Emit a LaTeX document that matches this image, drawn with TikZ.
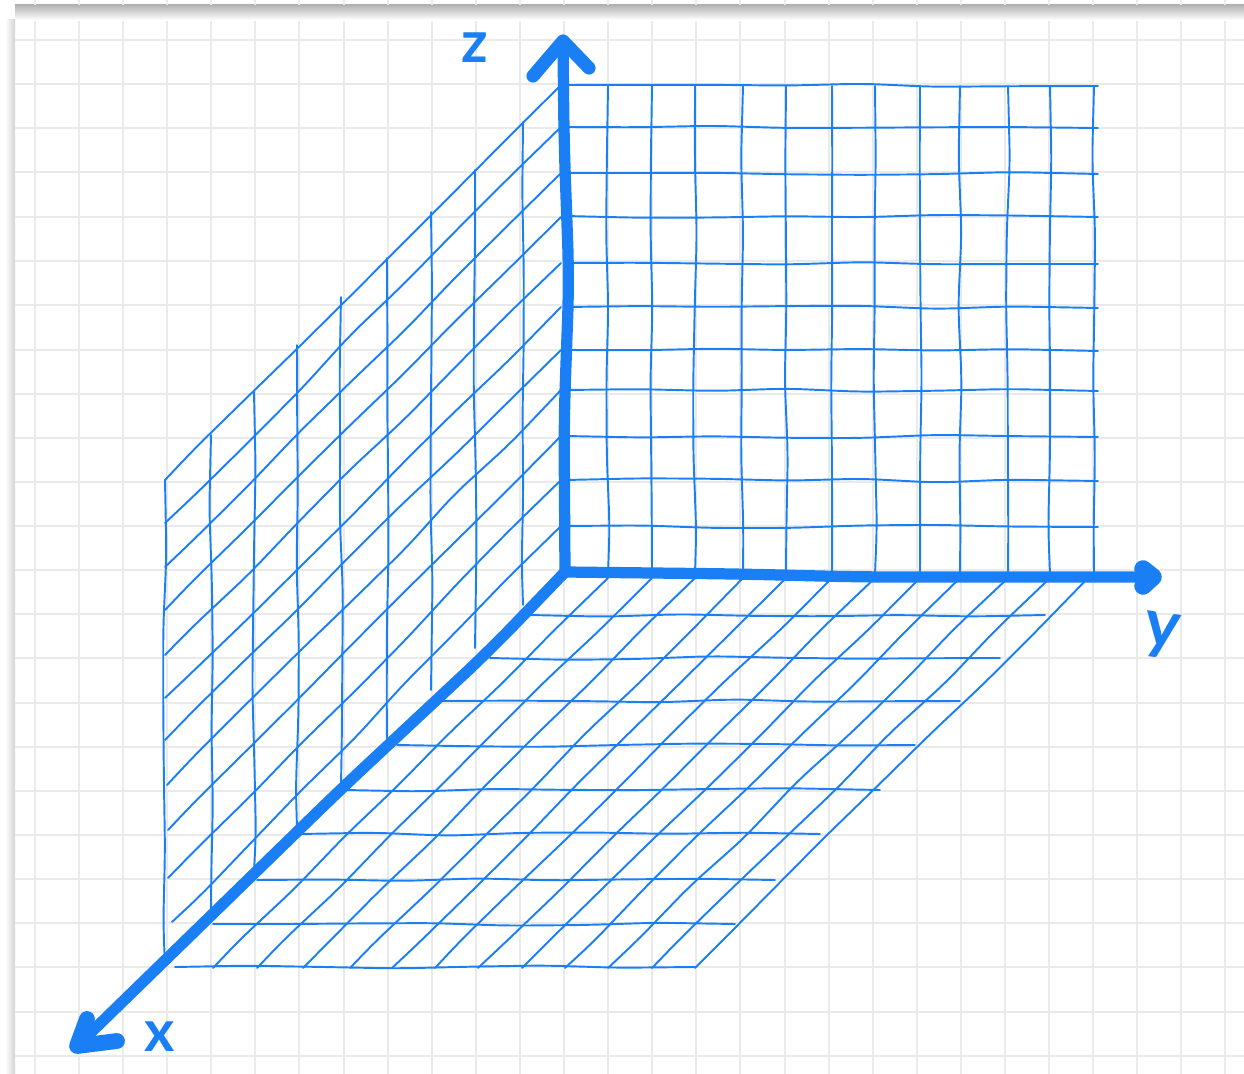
\documentclass[tikz,border=0pt]{standalone}
\usepackage{xcolor}
\usepackage{fontspec}
\usepackage{tikz}
\usetikzlibrary{decorations.pathmorphing}
\setsansfont{Lato}
\definecolor{ink}{HTML}{1A7FF5}
\definecolor{paperline}{HTML}{EAEAEA}
\tikzset{
  paper line/.style={draw=paperline, line width=1.1pt},
  hand line/.style={
    draw=ink, line width=1.1pt, line cap=round, rounded corners=10pt,
    decorate, decoration={random steps, segment length=42pt, amplitude=1.1pt}
  },
  axis line/.style={
    draw=ink, line width=6.4pt, line cap=round, line join=round, rounded corners=20pt
  },
  axis head/.style={
    draw=ink, line width=7.5pt, line cap=round, line join=round
  },
  axis label/.style={font=\sffamily\bfseries\fontsize{33}{33}\selectfont, text=ink, inner sep=0pt}
}
\pgfmathsetseed{17}
\begin{document}
\begin{tikzpicture}[x=0.02cm, y=-0.02cm]
  \useasboundingbox (0, 0) rectangle (1244, 1074);

  % Paper edges
  \shade[top color=gray!60, bottom color=white] (15, 5) rectangle (1244, 20);
  \shade[left color=white, right color=gray!35] (5, 20) rectangle (15, 1074);

  % Paper grid
  \foreach \gridx in {35,79,123,167,211,255,299,344,388,432,476,520,564,608,652,696,740,785,829,873,917,961,1005,1049,1093,1137,1181,1225} {
    \draw[paper line] (\gridx, 21) -- (\gridx, 1074);
    \draw[paper line] (\gridx, 0) -- (\gridx, 5);
  }
  \foreach \gridy in {40,84,128,172,217,261,305,350,394,438,482,526,570,614,658,703,747,791,835,879,923,967,1012,1056} {
    \draw[paper line] (15, \gridy) -- (1244, \gridy);
  }

  \coordinate (origin) at (565, 572);
  \coordinate (ztip) at (563, 41);
  \coordinate (ytip) at (1153, 577);
  \coordinate (xtip) at (77, 1046);

  % Back wall
  \foreach \wallx in {608,652,695,743,786,832,875,920,960,1008,1050,1094} {
    \draw[hand line] (\wallx, 86) -- (\wallx, 574);
  }
  \foreach \wally in {85,127,173,216,263,307,350,390,436,480,526} {
    \draw[hand line] (566, \wally) -- (1098, \wally + 1);
  }

  % Left wall, verticals run from top edge to the x axis
  \foreach \sidex/\sidetop/\sidebot in {165/480/965, 211/435/915, 254/392/872, 297/345/828, 341/297/785, 387/258/740, 431/212/690, 475/170/648, 523/122/605} {
    \draw[hand line] (\sidex, \sidetop) -- (\sidex, \sidebot);
  }
  \foreach \slantz/\slantb/\slantl in {85/480/165, 127/523/165, 173/567/165, 217/610/165, 263/655/165, 307/698/165, 350/740/165, 390/785/167, 436/830/168, 480/878/168, 526/922/172} {
    \draw[hand line] (561, \slantz) -- (\slantl, \slantb);
  }

  % Floor
  \foreach \floorl/\floorr/\floory in {530/1045/615, 490/1000/658, 440/960/701, 397/915/745, 345/880/790, 300/820/834, 257/775/880, 213/735/924, 175/695/967} {
    \draw[hand line] (\floorl, \floory) -- (\floorr, \floory);
  }
  \foreach \floora/\floorb in {608/213, 652/257, 695/303, 743/350, 786/392, 832/435, 875/478, 920/522, 960/565, 1008/608, 1050/652, 1088/695} {
    \draw[hand line] (\floora, 578) -- (\floorb, 968);
  }

  % Axes
  \draw[axis line] (origin) -- (564, 420) -- (569, 280) -- (564, 140) -- (ztip);
  \draw[axis line] (origin) -- (740, 574) -- (860, 577) -- (ytip);
  \draw[axis line] (origin) -- (490, 650) -- (340, 790) -- (xtip);
  \draw[axis head] (533, 76) -- (ztip) -- (589, 68);
  \draw[axis head, line width=10pt] (1143, 569) -- (ytip) -- (1143, 586);
  \draw[axis head, line width=9pt] (87, 1019) -- (xtip) -- (117, 1041);

  % Labels
  \node[axis label] (zlabel) at (475, 48) {z};
  \node[axis label, rotate=-8, scale=1.15] (ylabel) at (1162, 636) {y};
  \node[axis label] (xlabel) at (160, 1037) {x};
\end{tikzpicture}
\end{document}
